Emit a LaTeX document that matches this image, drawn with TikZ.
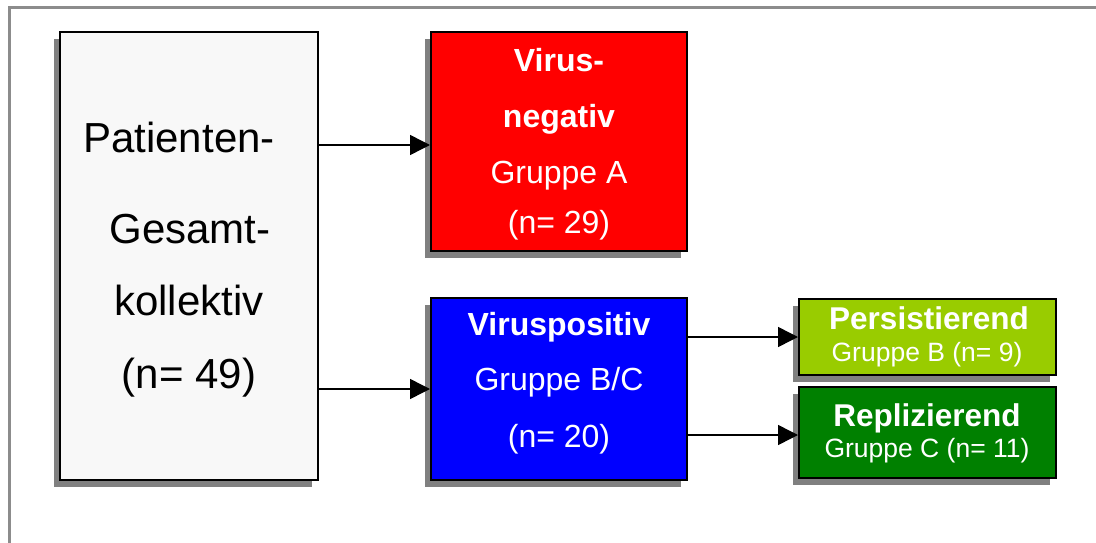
\documentclass[tikz,border=0pt]{standalone}
\usepackage{fontspec}
\setmainfont{Liberation Sans}
\usetikzlibrary{arrows.meta,shadows}
\definecolor{framegray}{HTML}{8C8C8C}
\definecolor{shadowgray}{HTML}{808080}
\definecolor{mainfill}{HTML}{F8F8F8}
\definecolor{lgreen}{HTML}{99CC00}
\definecolor{dgreen}{HTML}{008000}
\tikzset{
  box/.style={draw=black, line width=2pt, inner sep=0pt, rectangle,
    general shadow={fill=shadowgray, shadow xshift=-6pt, shadow yshift=-7pt}},
  txt/.style={anchor=base, inner sep=0pt, text=white},
  arr/.style={line width=1.5pt, -{Triangle[length=20pt,width=20pt]}},
  big/.style={font=\fontsize{42}{42}\selectfont, text=black},
  mid/.style={font=\fontsize{32}{32}\selectfont},
  midb/.style={font=\fontsize{32}{32}\selectfont\bfseries},
  gb/.style={font=\fontsize{31.5}{31.5}\selectfont\bfseries},
  small/.style={font=\fontsize{26.5}{26.5}\selectfont},
}
\begin{document}
\begin{tikzpicture}[x=1pt,y=-1pt]
\useasboundingbox (0,0) rectangle (1096,543);
\fill[white] (0,0) rectangle (1096,543);
\draw[framegray, line width=3pt] (9.5,543) -- (9.5,7.5) -- (1096,7.5);

\node[box, fill=mainfill, minimum width=258pt, minimum height=448pt] (main) at (189,256) {};
\node[box, fill=red, minimum width=256pt, minimum height=219pt] (neg) at (559,141.5) {};
\node[box, fill=blue, minimum width=256pt, minimum height=182pt] (pos) at (559,389) {};
\node[box, fill=lgreen, minimum width=257pt, minimum height=76pt] (pers) at (927.5,337) {};
\node[box, fill=dgreen, minimum width=257pt, minimum height=91pt] (repl) at (927.5,432.5) {};

\node[txt, big] (m1) at (179,153) {Patienten-};
\node[txt, big] (m2) at (190,243) {Gesamt-};
\node[txt, big] (m3) at (189,315) {kollektiv};
\node[txt, big] (m4) at (189,388) {(n= 49)};

\node[txt, midb] (n1) at (559,72) {Virus-};
\node[txt, midb] (n2) at (559,128) {negativ};
\node[txt, mid] (n3) at (559,183) {Gruppe A};
\node[txt, mid] (n4) at (559,233) {(n= 29)};

\node[txt, midb] (p1) at (559,335) {Viruspositiv};
\node[txt, mid] (p2) at (559,390) {Gruppe B/C};
\node[txt, mid] (p3) at (559,447) {(n= 20)};

\node[txt, gb] (g1) at (929,329) {Persistierend};
\node[txt, small] (g2) at (927,361) {Gruppe B (n= 9)};
\node[txt, gb] (r1) at (927,426) {Replizierend};
\node[txt, small] (r2) at (927,457) {Gruppe C (n= 11)};

\draw[arr] (main.east |- 0,145) -- (neg.west |- 0,145);
\draw[arr] (main.east |- pos.west) -- (pos.west);
\draw[arr] (pos.east |- pers.west) -- (pers.west);
\draw[arr] (pos.east |- 0,435) -- (repl.west |- 0,435);
\end{tikzpicture}
\end{document}
